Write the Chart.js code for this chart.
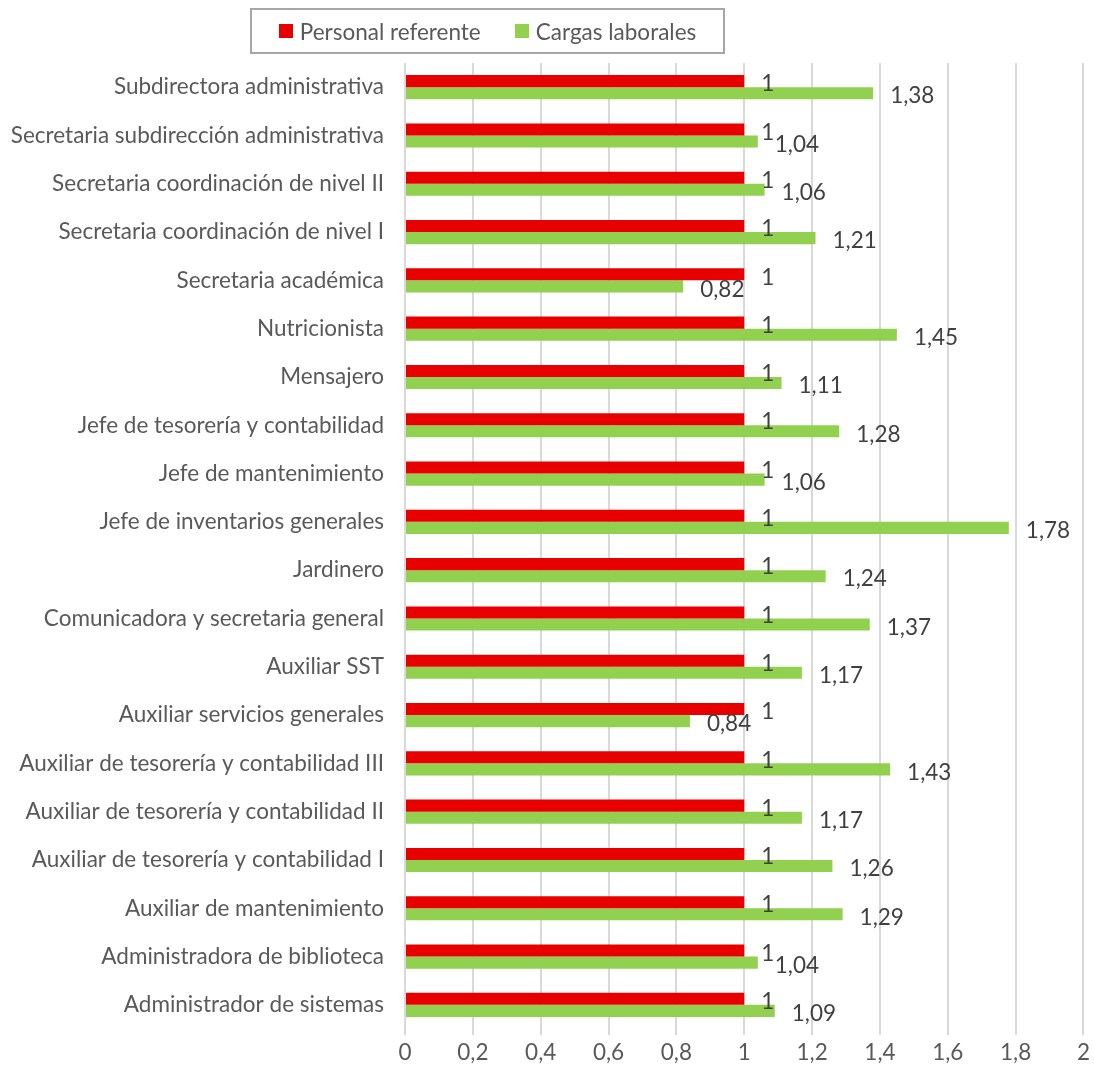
<!DOCTYPE html>
<html lang="es">
<head>
<meta charset="utf-8">
<title>Personal referente vs cargas laborales</title>
<script src="https://cdn.jsdelivr.net/npm/chart.js@4/dist/chart.umd.min.js"></script>
<style>
  html, body { margin: 0; padding: 0; background: #fff; }
  #wrap { position: relative; width: 1094px; height: 1076px; }
  #legend {
    position: absolute; left: 250px; top: 8px; width: 471px; height: 42px;
    border: 2px solid #a6a6a6; box-sizing: content-box;
    display: flex; align-items: center; justify-content: center; gap: 34px;
    font-family: Lato, "Open Sans", sans-serif; font-size: 22.5px; color: #595959;
  }
  #legend span.item { display: flex; align-items: center; gap: 7px; }
  #legend i { display: inline-block; width: 14px; height: 14px; }
</style>
</head>
<body>
<div id="wrap">
  <canvas id="cargas" width="1094" height="1076"></canvas>
  <div id="legend"></div>
</div>
<script>
const categories = [
  'Subdirectora administrativa',
  'Secretaria subdirección administrativa',
  'Secretaria coordinación de nivel II',
  'Secretaria coordinación de nivel I',
  'Secretaria académica',
  'Nutricionista',
  'Mensajero',
  'Jefe de tesorería y contabilidad',
  'Jefe de mantenimiento',
  'Jefe de inventarios generales',
  'Jardinero',
  'Comunicadora y secretaria general',
  'Auxiliar SST',
  'Auxiliar servicios generales',
  'Auxiliar de tesorería y contabilidad III',
  'Auxiliar de tesorería y contabilidad II',
  'Auxiliar de tesorería y contabilidad I',
  'Auxiliar de mantenimiento',
  'Administradora de biblioteca',
  'Administrador de sistemas'
];
const personalReferente = [1, 1, 1, 1, 1, 1, 1, 1, 1, 1, 1, 1, 1, 1, 1, 1, 1, 1, 1, 1];
const cargasLaborales = [1.38, 1.04, 1.06, 1.21, 0.82, 1.45, 1.11, 1.28, 1.06, 1.78,
                         1.24, 1.37, 1.17, 0.84, 1.43, 1.17, 1.26, 1.29, 1.04, 1.09];
const seriesNames = ['Personal referente', 'Cargas laborales'];
const seriesColors = ['#E80000', '#92D050'];

const FONT = 'Lato, "Open Sans", sans-serif';
const SIZE = 22.5;
const TEXT = '#595959';

// comma decimal, e.g. 1,38
const fmt = v => String(Number(v.toFixed(2))).replace('.', ',');

// value labels just past the end of each bar
const valueLabels = {
  id: 'valueLabels',
  afterDatasetsDraw(chart) {
    const ctx = chart.ctx;
    ctx.save();
    ctx.font = SIZE + 'px ' + FONT;
    ctx.fillStyle = '#404040';
    ctx.textAlign = 'left';
    ctx.textBaseline = 'middle';
    chart.data.datasets.forEach((ds, i) => {
      chart.getDatasetMeta(i).data.forEach((bar, j) => {
        ctx.fillText(fmt(ds.data[j]), bar.x + 17, bar.y + 3);
      });
    });
    ctx.restore();
  }
};

new Chart(document.getElementById('cargas'), {
  type: 'bar',
  data: {
    labels: categories,
    datasets: [
      { label: seriesNames[0], data: personalReferente, backgroundColor: seriesColors[0] },
      { label: seriesNames[1], data: cargasLaborales, backgroundColor: seriesColors[1] }
    ]
  },
  options: {
    indexAxis: 'y',
    responsive: false,
    animation: false,
    devicePixelRatio: 1,
    categoryPercentage: 0.5,
    barPercentage: 1.0,
    layout: { padding: { top: 63, right: 7, bottom: 6, left: 0 } },
    plugins: {
      legend: { display: false },
      tooltip: { enabled: false }
    },
    scales: {
      x: {
        min: 0,
        max: 2,
        border: { display: false },
        grid: { color: '#d9d9d9', lineWidth: 2, tickLength: 6, tickColor: '#d9d9d9' },
        ticks: {
          stepSize: 0.2,
          color: TEXT,
          padding: 4,
          font: { family: FONT, size: SIZE },
          callback: v => fmt(v)
        }
      },
      y: {
        border: { display: false },
        grid: { display: false },
        ticks: { color: TEXT, padding: 13, font: { family: FONT, size: SIZE } },
        afterFit(scale) { scale.width = 405; }
      }
    }
  },
  plugins: [valueLabels]
});

// legend box above the plot
const legend = document.getElementById('legend');
seriesNames.forEach((name, i) => {
  const item = document.createElement('span');
  item.className = 'item';
  const swatch = document.createElement('i');
  swatch.style.background = seriesColors[i];
  item.appendChild(swatch);
  item.appendChild(document.createTextNode(name));
  legend.appendChild(item);
});
</script>
</body>
</html>
